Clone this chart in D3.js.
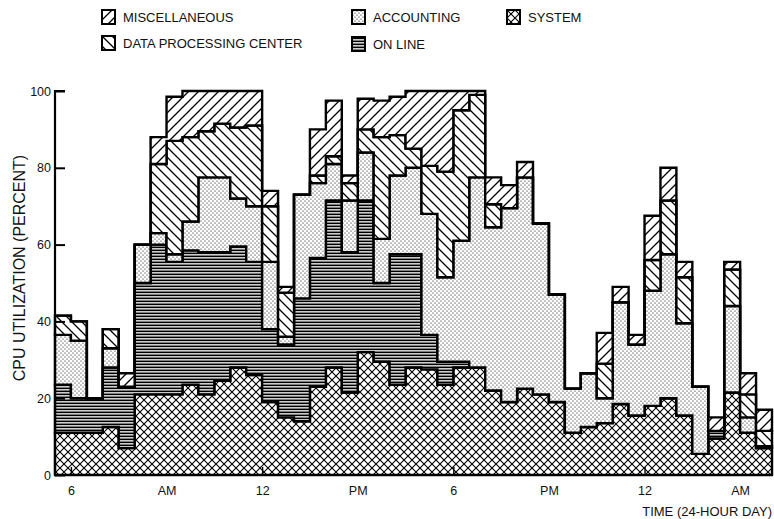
<!DOCTYPE html>
<html>
<head>
<meta charset="utf-8">
<script src="https://cdn.jsdelivr.net/npm/d3@7"></script>
<style>
  body { margin: 0; background: #fff; }
  text { font-family: "Liberation Sans", Arial, sans-serif; fill: #111; }
</style>
</head>
<body>
<script>
// half-hour intervals, hours of the day (24 = midnight)
const hours = [5.5, 6, 6.5, 7, 7.5, 8, 8.5, 9, 9.5, 10, 10.5, 11, 11.5, 12, 12.5,
  13, 13.5, 14, 14.5, 15, 15.5, 16, 16.5, 17, 17.5, 18, 18.5, 19, 19.5, 20, 20.5,
  21, 21.5, 22, 22.5, 23, 23.5, 24, 24.5, 25, 25.5, 26, 26.5, 27, 27.5];
const endHour = 28;

// CPU utilization (percent) by workload
const system = [11, 11, 11, 12.5, 7, 21, 21, 21, 23.5, 21, 24.5, 28, 26, 19, 15,
  14, 23, 28, 21.5, 32, 29.5, 23.5, 28, 27.5, 23.5, 28, 28, 22, 19, 22.5, 21,
  19, 11, 12.5, 13.5, 18.5, 15.5, 18, 20, 15.5, 5.5, 9.5, 21.5, 11, 7];
const onLine = [12.5, 9, 9, 15.5, 16, 29, 39, 34.5, 35, 37, 33.5, 31.5, 29.5, 19, 19,
  32, 33.5, 43.5, 36.5, 39.5, 20.5, 34, 29.5, 9, 6, 1.5, 0, 0, 0, 0, 0,
  0, 0, 0, 0, 0, 0, 0, 0, 0, 0, 2, 0, 0, 0];
const accounting = [13, 15, 0, 5, 0, 10, 3, 2, 7.5, 19.5, 19.5, 12.5, 14.5, 17.5, 2,
  27, 19.5, 9.5, 13.5, 12.5, 11.5, 20.5, 22.5, 31.5, 22, 31.5, 49.5, 42.5, 50.5, 55, 44.5,
  28, 11.5, 14, 6.5, 26.5, 18.5, 30, 37.5, 24, 17.5, 0, 22.5, 4, 0.5];
const dataCenter = [5, 5, 0, 5, 0, 0, 18, 29.5, 22, 12, 14, 18.5, 21, 14.5, 11.5,
  0, 2, 2, 4.5, 6, 26.5, 10.5, 5, 12.5, 27.5, 34, 21.5, 6, 0, 0, 0,
  0, 0, 0, 9, 0, 0, 8, 14, 12, 0, 0, 9.5, 6, 4];
const misc = [0, 0, 0, 0, 3.5, 0, 7, 11.5, 12, 10.5, 8.5, 9.5, 9, 4, 1.5,
  0, 12, 14.5, 2, 8, 9.5, 10, 15, 19.5, 21, 5, 1, 7, 6, 4, 0,
  0, 0, 0, 8, 4, 2.5, 11.5, 8.5, 4, 0, 3.5, 2, 5.5, 5.5];

const yTicks = [0, 20, 40, 60, 80, 100];
const xLabelHours = [6, 9, 12, 15, 18, 21, 24, 27];
const xLabels = ["6", "AM", "12", "PM", "6", "PM", "12", "AM"];
const xMarkHours = [6, 12, 18, 24];

const keys = ["system", "onLine", "accounting", "dataCenter", "misc"];
const labels = {
  misc: "MISCELLANEOUS", dataCenter: "DATA PROCESSING CENTER",
  accounting: "ACCOUNTING", onLine: "ON LINE", system: "SYSTEM"
};

const W = 774, H = 519;
const svg = d3.select("body").append("svg").attr("width", W).attr("height", H);
svg.append("rect").attr("width", W).attr("height", H).attr("fill", "#fff");

const x = d3.scaleLinear().domain([hours[0], endHour]).range([55, 772]);
const y = d3.scaleLinear().domain([0, 100]).range([475, 91]);

// fill patterns
const defs = svg.append("defs");
function pattern(id, w, h) {
  const p = defs.append("pattern").attr("id", id)
    .attr("patternUnits", "userSpaceOnUse").attr("width", w).attr("height", h);
  p.append("rect").attr("width", w).attr("height", h).attr("fill", "#fff");
  return p;
}
const s = 10;
const back = `M-1,-1L${s + 1},${s + 1}M-1,${s - 1}L1,${s + 1}M${s - 1},-1L${s + 1},1`;
const fwd = `M-1,${s + 1}L${s + 1},-1M-1,1L1,-1M${s - 1},${s + 1}L${s + 1},${s - 1}`;
pattern("p-dataCenter", s, s).append("path").attr("d", back)
  .attr("stroke", "#000").attr("stroke-width", 1.3);
pattern("p-misc", s, s).append("path").attr("d", fwd)
  .attr("stroke", "#000").attr("stroke-width", 1.3);
const c = 8;
pattern("p-system", c, c).append("path")
  .attr("d", `M0,0L${c},${c}M0,${c}L${c},0`)
  .attr("stroke", "#000").attr("stroke-width", 1.1);
const hp = pattern("p-onLine", 6, 3);
hp.append("rect").attr("y", 0.5).attr("width", 6).attr("height", 1.7).attr("fill", "#000");
const dp = pattern("p-accounting", 4, 4);
dp.append("circle").attr("cx", 1).attr("cy", 1).attr("r", 0.62).attr("fill", "#000");
dp.append("circle").attr("cx", 3).attr("cy", 3).attr("r", 0.62).attr("fill", "#000");

// stacked step bands
const series = { system, onLine, accounting, dataCenter, misc };
const rows = hours.map((h, i) => {
  const r = { h };
  keys.forEach(k => r[k] = series[k][i]);
  return r;
});
rows.push(Object.assign({}, rows[rows.length - 1], { h: endHour }));

const stack = d3.stack().keys(keys)(rows);
const area = d3.area()
  .curve(d3.curveStepAfter)
  .x(d => x(d.data.h))
  .y0(d => y(d[0]))
  .y1(d => y(d[1]));

svg.append("g").selectAll("path")
  .data(stack)
  .join("path")
  .attr("d", area)
  .attr("fill", d => `url(#p-${d.key})`)
  .attr("stroke", "#000")
  .attr("stroke-width", 2.4)
  .attr("stroke-linejoin", "miter");

// axes
svg.append("g")
  .attr("transform", "translate(55,0)")
  .call(d3.axisLeft(y).tickValues(yTicks).tickSize(-10).tickPadding(4))
  .call(g => g.select(".domain").attr("stroke-width", 2.2).attr("d", "M10,91H0V475"))
  .call(g => g.selectAll(".tick line").attr("stroke-width", 2))
  .call(g => g.selectAll("text").attr("font-size", 12.5).attr("fill", "#111"));

svg.append("g")
  .attr("transform", "translate(0,475)")
  .call(d3.axisBottom(x).tickValues(xMarkHours).tickSize(-8).tickFormat(""))
  .call(g => g.select(".domain").attr("stroke-width", 2.2).attr("d", "M55,0H772"))
  .call(g => g.selectAll(".tick line").attr("stroke-width", 1.4));

svg.append("g")
  .attr("transform", "translate(0,475)")
  .call(d3.axisBottom(x).tickValues(xLabelHours).tickSize(0).tickPadding(11)
    .tickFormat((d, i) => xLabels[i]))
  .call(g => g.select(".domain").remove())
  .call(g => g.selectAll("text").attr("font-size", 12.5).attr("fill", "#111"));

svg.append("text")
  .attr("transform", "translate(25,268) rotate(-90)")
  .attr("text-anchor", "middle")
  .attr("font-size", 16)
  .text("CPU UTILIZATION (PERCENT)");

svg.append("text")
  .attr("x", 772).attr("y", 516)
  .attr("text-anchor", "end")
  .attr("font-size", 13)
  .text("TIME (24-HOUR DAY)");

// legend
const legendPos = [
  { key: "misc", x: 102, y: 10 },
  { key: "dataCenter", x: 102, y: 36 },
  { key: "accounting", x: 352, y: 10 },
  { key: "onLine", x: 352, y: 37 },
  { key: "system", x: 507, y: 10 }
];
const lg = svg.append("g").selectAll("g").data(legendPos).join("g")
  .attr("transform", d => `translate(${d.x},${d.y})`);
lg.append("rect")
  .attr("width", 13).attr("height", 14)
  .attr("fill", d => `url(#p-${d.key})`)
  .attr("stroke", "#000").attr("stroke-width", 2);
lg.append("text")
  .attr("x", 21).attr("y", 12)
  .attr("font-size", 13)
  .text(d => labels[d.key]);
</script>
</body>
</html>
